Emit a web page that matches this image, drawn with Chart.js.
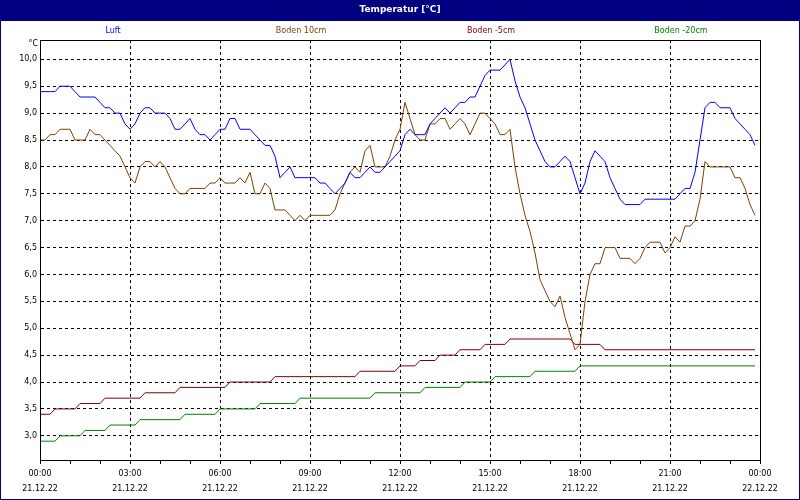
<!DOCTYPE html>
<html lang="de">
<head>
  <meta charset="UTF-8" />
  <title>Temperatur [°C]</title>
  <script src="https://cdn.jsdelivr.net/npm/chart.js"></script>
  <style>
    body { margin: 0; background: #fff; }
    #wrap { width: 800px; height: 500px; }
  </style>
</head>
<body>
  <div id="wrap"><canvas id="chartTemp" width="800" height="500"></canvas></div>

  <script>
    // Messwerte alle 10 Minuten, 21.12.22 00:00 bis 23:50
    const luft = [
      9.4, 9.4, 9.4, 9.4, 9.5, 9.5, 9.5, 9.4, 9.3, 9.3, 9.3, 9.3,
      9.2, 9.1, 9.1, 9.0, 9.0, 8.8, 8.7, 8.8, 9.0, 9.1, 9.1, 9.0,
      9.0, 9.0, 8.9, 8.7, 8.7, 8.8, 8.9, 8.7, 8.6, 8.6, 8.5, 8.6,
      8.7, 8.7, 8.9, 8.9, 8.7, 8.7, 8.7, 8.6, 8.5, 8.4, 8.4, 8.2,
      7.8, 7.9, 8.0, 7.8, 7.8, 7.8, 7.8, 7.8, 7.7, 7.7, 7.6, 7.5,
      7.6, 7.7, 7.9, 7.8, 7.8, 7.9, 8.0, 7.9, 7.9, 8.0, 8.1, 8.2,
      8.3, 8.6, 8.7, 8.6, 8.6, 8.6, 8.8, 8.9, 9.0, 9.1, 9.0, 9.1,
      9.2, 9.2, 9.3, 9.3, 9.5, 9.7, 9.8, 9.8, 9.8, 9.9, 10.0, 9.6,
      9.3, 9.1, 8.8, 8.5, 8.3, 8.1, 8.0, 8.0, 8.1, 8.2, 8.1, 7.8,
      7.5, 7.7, 8.1, 8.3, 8.2, 8.1, 7.8, 7.6, 7.4, 7.3, 7.3, 7.3,
      7.3, 7.4, 7.4, 7.4, 7.4, 7.4, 7.4, 7.4, 7.5, 7.6, 7.6, 7.9,
      8.5, 9.1, 9.2, 9.2, 9.1, 9.1, 9.1, 8.9, 8.8, 8.7, 8.6, 8.4
    ];
    const boden10 = [
      8.5, 8.5, 8.6, 8.6, 8.7, 8.7, 8.7, 8.5, 8.5, 8.5, 8.7, 8.6,
      8.6, 8.5, 8.4, 8.3, 8.2, 8.0, 7.8, 7.7, 8.0, 8.1, 8.1, 8.0,
      8.1, 8.0, 7.8, 7.6, 7.5, 7.5, 7.6, 7.6, 7.6, 7.6, 7.7, 7.7,
      7.8, 7.7, 7.7, 7.7, 7.8, 7.7, 7.9, 7.5, 7.5, 7.7, 7.6, 7.2,
      7.2, 7.2, 7.1, 7.0, 7.1, 7.0, 7.1, 7.1, 7.1, 7.1, 7.1, 7.2,
      7.5, 7.7, 7.9, 8.0, 7.9, 8.3, 8.4, 8.0, 8.0, 8.0, 8.2, 8.5,
      8.7, 9.2, 8.9, 8.6, 8.5, 8.5, 8.8, 8.8, 8.9, 8.9, 8.7, 8.8,
      8.9, 8.8, 8.6, 8.8, 9.0, 9.0, 8.9, 8.8, 8.6, 8.6, 8.7, 8.0,
      7.5, 7.1, 6.8, 6.4, 5.9, 5.7, 5.5, 5.4, 5.6, 5.2, 4.9, 4.6,
      4.7, 5.5, 6.0, 6.2, 6.2, 6.5, 6.5, 6.5, 6.3, 6.3, 6.3, 6.2,
      6.3, 6.5, 6.6, 6.6, 6.6, 6.4, 6.5, 6.7, 6.6, 6.9, 6.9, 7.0,
      7.4, 8.1, 8.0, 8.0, 8.0, 8.0, 8.0, 7.8, 7.8, 7.6, 7.3, 7.1
    ];
    const bodenMinus5 = [
      3.4, 3.4, 3.4, 3.5, 3.5, 3.5, 3.5, 3.5, 3.6, 3.6, 3.6, 3.6,
      3.6, 3.7, 3.7, 3.7, 3.7, 3.7, 3.7, 3.7, 3.7, 3.8, 3.8, 3.8,
      3.8, 3.8, 3.8, 3.8, 3.9, 3.9, 3.9, 3.9, 3.9, 3.9, 3.9, 3.9,
      3.9, 3.9, 4.0, 4.0, 4.0, 4.0, 4.0, 4.0, 4.0, 4.0, 4.0, 4.1,
      4.1, 4.1, 4.1, 4.1, 4.1, 4.1, 4.1, 4.1, 4.1, 4.1, 4.1, 4.1,
      4.1, 4.1, 4.1, 4.1, 4.2, 4.2, 4.2, 4.2, 4.2, 4.2, 4.2, 4.2,
      4.3, 4.3, 4.3, 4.3, 4.4, 4.4, 4.4, 4.4, 4.5, 4.5, 4.5, 4.5,
      4.6, 4.6, 4.6, 4.6, 4.6, 4.7, 4.7, 4.7, 4.7, 4.7, 4.8, 4.8,
      4.8, 4.8, 4.8, 4.8, 4.8, 4.8, 4.8, 4.8, 4.8, 4.8, 4.8, 4.7,
      4.7, 4.7, 4.7, 4.7, 4.7, 4.6, 4.6, 4.6, 4.6, 4.6, 4.6, 4.6,
      4.6, 4.6, 4.6, 4.6, 4.6, 4.6, 4.6, 4.6, 4.6, 4.6, 4.6, 4.6,
      4.6, 4.6, 4.6, 4.6, 4.6, 4.6, 4.6, 4.6, 4.6, 4.6, 4.6, 4.6
    ];
    const bodenMinus20 = [
      2.9, 2.9, 2.9, 2.9, 3.0, 3.0, 3.0, 3.0, 3.0, 3.1, 3.1, 3.1,
      3.1, 3.1, 3.2, 3.2, 3.2, 3.2, 3.2, 3.2, 3.3, 3.3, 3.3, 3.3,
      3.3, 3.3, 3.3, 3.3, 3.3, 3.4, 3.4, 3.4, 3.4, 3.4, 3.4, 3.4,
      3.5, 3.5, 3.5, 3.5, 3.5, 3.5, 3.5, 3.5, 3.6, 3.6, 3.6, 3.6,
      3.6, 3.6, 3.6, 3.6, 3.7, 3.7, 3.7, 3.7, 3.7, 3.7, 3.7, 3.7,
      3.7, 3.7, 3.7, 3.7, 3.7, 3.7, 3.7, 3.8, 3.8, 3.8, 3.8, 3.8,
      3.8, 3.8, 3.8, 3.8, 3.8, 3.9, 3.9, 3.9, 3.9, 3.9, 3.9, 3.9,
      3.9, 4.0, 4.0, 4.0, 4.0, 4.0, 4.0, 4.1, 4.1, 4.1, 4.1, 4.1,
      4.1, 4.1, 4.1, 4.2, 4.2, 4.2, 4.2, 4.2, 4.2, 4.2, 4.2, 4.2,
      4.3, 4.3, 4.3, 4.3, 4.3, 4.3, 4.3, 4.3, 4.3, 4.3, 4.3, 4.3,
      4.3, 4.3, 4.3, 4.3, 4.3, 4.3, 4.3, 4.3, 4.3, 4.3, 4.3, 4.3,
      4.3, 4.3, 4.3, 4.3, 4.3, 4.3, 4.3, 4.3, 4.3, 4.3, 4.3, 4.3
    ];

    const serienNamen = ['Luft', 'Boden 10cm', 'Boden -5cm', 'Boden -20cm'];
    const serienFarben = ['#0000ff', '#804000', '#800000', '#008000'];
    const yTicks = [3.0, 3.5, 4.0, 4.5, 5.0, 5.5, 6.0, 6.5, 7.0, 7.5, 8.0, 8.5, 9.0, 9.5, 10.0];
    const xZeiten = ['00:00', '03:00', '06:00', '09:00', '12:00', '15:00', '18:00', '21:00', '00:00'];
    const xDaten = ['21.12.22', '21.12.22', '21.12.22', '21.12.22', '21.12.22', '21.12.22', '21.12.22', '21.12.22', '22.12.22'];
    const titel = 'Temperatur [°C]';

    // Zeitachse in Stunden (10-Minuten-Raster)
    const stunden = luft.map((_, i) => i * 10 / 60);

    const schrift = '"DejaVu Sans", Verdana, sans-serif';

    const rahmen = {
      id: 'rahmen',
      beforeDraw(chart) {
        const c = chart.ctx;
        c.save();
        c.fillStyle = '#ffffff';
        c.fillRect(0, 0, 800, 500);
        c.fillStyle = '#000080';
        c.fillRect(0, 0, 800, 21);
        c.fillStyle = '#ffffff';
        c.font = 'bold 9px ' + schrift;
        c.textAlign = 'center';
        c.textBaseline = 'middle';
        c.fillText(titel, 400, 10);

        const legX = [113, 301, 491, 681];
        c.font = '8px ' + schrift;
        serienNamen.forEach((n, i) => {
          c.fillStyle = serienFarben[i];
          c.fillText(n, legX[i], 31);
        });

        c.fillStyle = '#000';
        c.textAlign = 'right';
        c.fillText('°C', 38, 44);
        c.restore();
      },
      afterDraw(chart) {
        const c = chart.ctx;
        const a = chart.chartArea;
        c.save();
        c.strokeStyle = '#000';
        c.lineWidth = 1;
        c.strokeRect(a.left + 0.5, a.top + 0.5, a.right - a.left, a.bottom - a.top);
        c.strokeStyle = '#000080';
        c.strokeRect(0.5, 0.5, 799, 499);
        c.restore();
      }
    };

    const datensaetze = [luft, boden10, bodenMinus5, bodenMinus20].map((werte, i) => ({
      label: serienNamen[i],
      data: werte,
      borderColor: serienFarben[i],
      borderWidth: 1,
      pointRadius: 0,
      tension: 0,
      fill: false
    }));

    new Chart(document.getElementById('chartTemp'), {
      type: 'line',
      data: { labels: stunden, datasets: datensaetze },
      options: {
        responsive: false,
        devicePixelRatio: 1,
        animation: false,
        events: [],
        layout: { padding: { top: 40, right: 40, left: 0, bottom: 0 } },
        plugins: {
          legend: { display: false },
          title: { display: false },
          tooltip: { enabled: false }
        },
        scales: {
          x: {
            type: 'linear',
            min: 0,
            max: 24,
            afterBuildTicks(scale) {
              const t = [];
              for (let h = 0; h <= 24; h++) t.push({ value: h });
              scale.ticks = t;
            },
            afterFit(scale) {
              scale.height = 40;
              scale.paddingLeft = 0;
              scale.paddingRight = 0;
            },
            ticks: {
              autoSkip: false,
              maxRotation: 0,
              padding: 2,
              color: '#000',
              font: { family: schrift, size: 8, lineHeight: '15px' },
              callback(v) {
                if (v % 3 !== 0) return '';
                return [xZeiten[v / 3], xDaten[v / 3]];
              }
            },
            grid: {
              color: (ctx) => (ctx.tick && ctx.tick.value % 3 === 0 ? '#000' : 'rgba(0,0,0,0)'),
              lineWidth: 1,
              tickColor: '#000',
              tickLength: 4,
              drawTicks: true
            },
            border: { display: true, color: '#000', width: 1, dash: [3, 3] }
          },
          y: {
            min: 2.55,
            max: 10.36,
            afterBuildTicks(scale) {
              scale.ticks = yTicks.map(v => ({ value: v }));
            },
            afterFit(scale) {
              scale.width = 40;
              scale.paddingTop = 0;
              scale.paddingBottom = 0;
            },
            ticks: {
              padding: 3,
              color: '#000',
              font: { family: schrift, size: 8 },
              callback: (v) => v.toFixed(1).replace('.', ',')
            },
            grid: {
              color: '#000',
              lineWidth: 1,
              drawTicks: false
            },
            border: { display: true, color: '#000', width: 1, dash: [3, 3] }
          }
        }
      },
      plugins: [rahmen]
    });
  </script>
</body>
</html>
